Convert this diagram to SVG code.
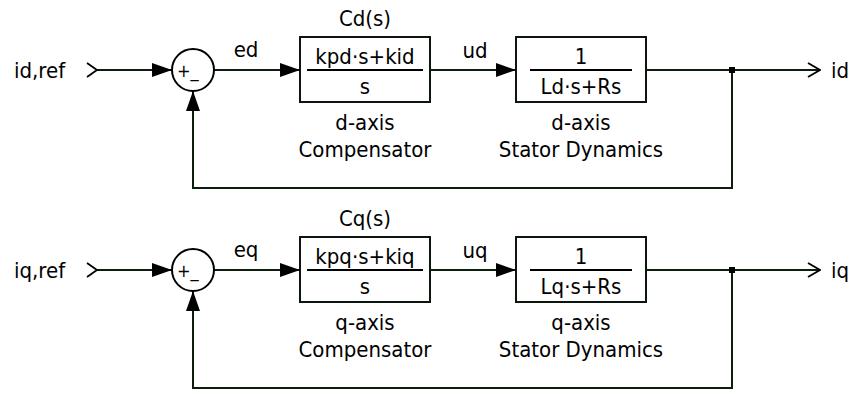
<svg xmlns="http://www.w3.org/2000/svg" width="851" height="396" viewBox="0 0 851 396">
  <style>
    text { font-family: "DejaVu Sans Condensed", "DejaVu Sans", "Liberation Sans", sans-serif; font-size: 22px; fill: #000; }
    .mid { text-anchor: middle; }
    .wire { fill: none; stroke: #0c1f0c; stroke-width: 2; }
    .block { fill: #fff; stroke: #0c160c; stroke-width: 2; }
    .sum { fill: #fff; stroke: #000; stroke-width: 2; }
    .bar { stroke: #000; stroke-width: 2; }
    .sign { font-size: 18px; }
    .port { fill: none; stroke: #000; stroke-width: 1.8; }
  </style>
  <defs>
    <marker id="arrow" viewBox="0 0 20 14" refX="20" refY="7" markerWidth="20" markerHeight="14" markerUnits="userSpaceOnUse" orient="auto">
      <path d="M0,0 L20,7 L0,14 Z" fill="#000"/>
    </marker>
    <marker id="open" viewBox="0 0 14 16" refX="13" refY="8" markerWidth="14" markerHeight="16" markerUnits="userSpaceOnUse" orient="auto">
      <path d="M1,1 L13,8 L1,15" fill="none" stroke="#000" stroke-width="1.8"/>
    </marker>
  </defs>

  <!-- d-axis current loop -->
  <g id="d-loop">
    <g id="connectors-d">
      <path class="wire" d="M96,70 H172" marker-end="url(#arrow)"/>
      <path class="wire" d="M214,70 H300" marker-end="url(#arrow)"/>
      <path class="wire" d="M430,70 H516" marker-end="url(#arrow)"/>
      <path class="wire" d="M646,70 H820" marker-end="url(#open)"/>
      <path class="wire" d="M732,70 V188 H193 V91" marker-end="url(#arrow)"/>
      <rect x="729" y="67" width="6" height="6" fill="#000"/>
    </g>
    <g id="id-ref">
      <path class="port" d="M87,63 L97,70 L87,77"/>
      <text x="14" y="78">id,ref</text>
    </g>
    <g id="sum-d">
      <circle class="sum" cx="193" cy="70" r="21"/>
      <text class="sign" x="177" y="77">+_</text>
    </g>
    <text class="mid" x="246" y="57">ed</text>
    <g id="Cd">
      <rect class="block" x="300" y="37" width="130" height="65"/>
      <line class="bar" x1="307" y1="70" x2="423" y2="70"/>
      <text class="mid" x="365" y="64">kpd·s+kid</text>
      <text class="mid" x="365" y="94">s</text>
      <text class="mid" x="365" y="26">Cd(s)</text>
      <text class="mid" x="365" y="130">d-axis</text>
      <text class="mid" x="365" y="157">Compensator</text>
    </g>
    <text class="mid" x="475" y="58">ud</text>
    <g id="Gd">
      <rect class="block" x="516" y="37" width="130" height="65"/>
      <line class="bar" x1="530" y1="70" x2="632" y2="70"/>
      <text class="mid" x="581" y="64">1</text>
      <text class="mid" x="581" y="94">Ld·s+Rs</text>
      <text class="mid" x="581" y="130">d-axis</text>
      <text class="mid" x="581" y="157">Stator Dynamics</text>
    </g>
    <text x="831" y="78">id</text>
  </g>

  <!-- q-axis current loop -->
  <g id="q-loop" transform="translate(0,200)">
    <g id="connectors-q">
      <path class="wire" d="M96,70 H172" marker-end="url(#arrow)"/>
      <path class="wire" d="M214,70 H300" marker-end="url(#arrow)"/>
      <path class="wire" d="M430,70 H516" marker-end="url(#arrow)"/>
      <path class="wire" d="M646,70 H820" marker-end="url(#open)"/>
      <path class="wire" d="M732,70 V188 H193 V91" marker-end="url(#arrow)"/>
      <rect x="729" y="67" width="6" height="6" fill="#000"/>
    </g>
    <g id="iq-ref">
      <path class="port" d="M87,63 L97,70 L87,77"/>
      <text x="14" y="78">iq,ref</text>
    </g>
    <g id="sum-q">
      <circle class="sum" cx="193" cy="70" r="21"/>
      <text class="sign" x="177" y="77">+_</text>
    </g>
    <text class="mid" x="246" y="57">eq</text>
    <g id="Cq">
      <rect class="block" x="300" y="37" width="130" height="65"/>
      <line class="bar" x1="307" y1="70" x2="423" y2="70"/>
      <text class="mid" x="365" y="64">kpq·s+kiq</text>
      <text class="mid" x="365" y="94">s</text>
      <text class="mid" x="365" y="26">Cq(s)</text>
      <text class="mid" x="365" y="130">q-axis</text>
      <text class="mid" x="365" y="157">Compensator</text>
    </g>
    <text class="mid" x="475" y="58">uq</text>
    <g id="Gq">
      <rect class="block" x="516" y="37" width="130" height="65"/>
      <line class="bar" x1="530" y1="70" x2="632" y2="70"/>
      <text class="mid" x="581" y="64">1</text>
      <text class="mid" x="581" y="94">Lq·s+Rs</text>
      <text class="mid" x="581" y="130">q-axis</text>
      <text class="mid" x="581" y="157">Stator Dynamics</text>
    </g>
    <text x="831" y="78">iq</text>
  </g>
</svg>
